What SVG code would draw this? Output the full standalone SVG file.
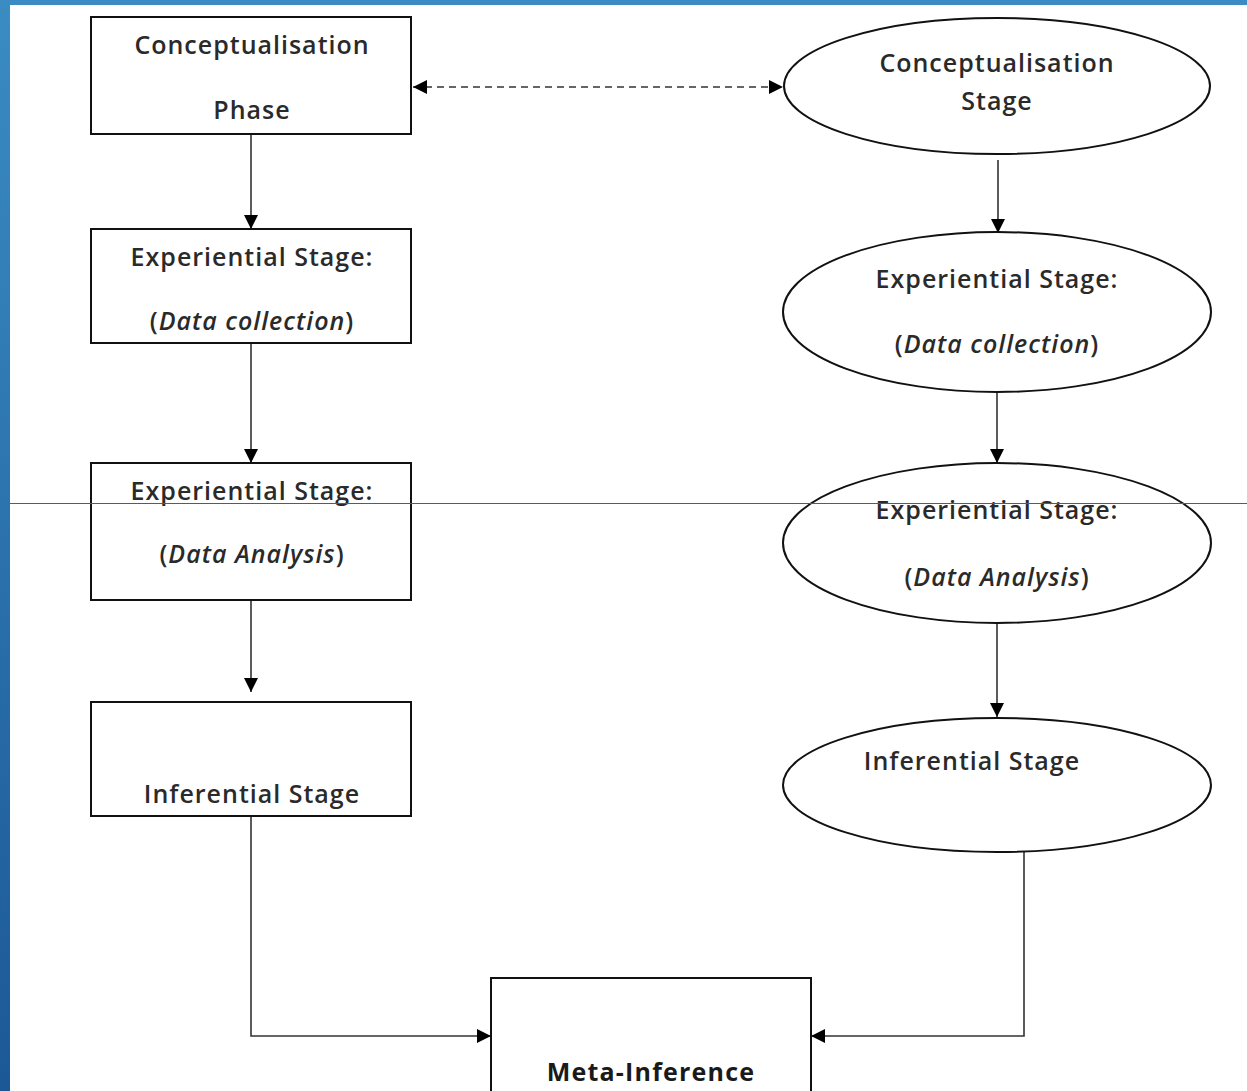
<svg xmlns="http://www.w3.org/2000/svg" width="1247" height="1091" viewBox="0 0 1247 1091">
<defs>
<linearGradient id="bg" x1="0" y1="0" x2="0" y2="1">
<stop offset="0" stop-color="#3a8cc2"/>
<stop offset="1" stop-color="#1c5896"/>
</linearGradient>
<marker id="ah" viewBox="0 0 10 10" refX="10" refY="5" markerWidth="14" markerHeight="14" markerUnits="userSpaceOnUse" orient="auto-start-reverse">
<path d="M0,0 L10,5 L0,10 z" fill="#000"/>
</marker>
</defs>
<style>
.n{fill:#fff;stroke:#111;stroke-width:2}
.t{font-family:"Open Sans","DejaVu Sans",sans-serif;font-size:25px;font-weight:600;letter-spacing:1px;fill:#2a2a2a;text-anchor:middle}
.i{font-style:italic}
.b{font-weight:bold;letter-spacing:1.2px;fill:#1a1a1a}
.c{fill:none;stroke:#333;stroke-width:1.6}
</style>
<rect x="0" y="0" width="1247" height="1091" fill="url(#bg)"/>
<rect x="10" y="5" width="1237" height="1086" fill="#fff"/>
<g id="connectors">
<line class="c" x1="413" y1="87" x2="783" y2="87" stroke-dasharray="7,5" stroke="#111" marker-start="url(#ah)" marker-end="url(#ah)"/>
<line class="c" x1="251" y1="134" x2="251" y2="229" marker-end="url(#ah)"/>
<line class="c" x1="251" y1="343" x2="251" y2="463" marker-end="url(#ah)"/>
<line class="c" x1="251" y1="600" x2="251" y2="692" marker-end="url(#ah)"/>
<line class="c" x1="998" y1="160" x2="998" y2="233" marker-end="url(#ah)"/>
<line class="c" x1="997" y1="392" x2="997" y2="463" marker-end="url(#ah)"/>
<line class="c" x1="997" y1="623" x2="997" y2="717" marker-end="url(#ah)"/>
<polyline class="c" points="251,816 251,1036 491,1036" marker-end="url(#ah)"/>
<polyline class="c" points="1024,852 1024,1036 811,1036" marker-end="url(#ah)"/>
</g>
<g id="box-conceptualisation-phase">
<rect class="n" x="91" y="17" width="320" height="117"/>
<text class="t" x="252" y="54">Conceptualisation</text>
<text class="t" x="252" y="119">Phase</text>
</g>
<g id="box-experiential-collection">
<rect class="n" x="91" y="229" width="320" height="114"/>
<text class="t" x="252" y="266">Experiential Stage:</text>
<text class="t" x="252" y="330">(<tspan class="i">Data collection</tspan>)</text>
</g>
<g id="box-experiential-analysis">
<rect class="n" x="91" y="463" width="320" height="137"/>
<text class="t" x="252" y="500">Experiential Stage:</text>
<text class="t" x="252" y="563">(<tspan class="i">Data Analysis</tspan>)</text>
</g>
<g id="box-inferential">
<rect class="n" x="91" y="702" width="320" height="114"/>
<text class="t" x="252" y="803">Inferential Stage</text>
</g>
<g id="ellipse-conceptualisation-stage">
<ellipse class="n" cx="997" cy="86" rx="213" ry="68"/>
<text class="t" x="997" y="72">Conceptualisation</text>
<text class="t" x="997" y="110">Stage</text>
</g>
<g id="ellipse-experiential-collection">
<ellipse class="n" cx="997" cy="312" rx="214" ry="80"/>
<text class="t" x="997" y="288">Experiential Stage:</text>
<text class="t" x="997" y="353">(<tspan class="i">Data collection</tspan>)</text>
</g>
<g id="ellipse-experiential-analysis">
<ellipse class="n" cx="997" cy="543" rx="214" ry="80"/>
<text class="t" x="997" y="519">Experiential Stage:</text>
<text class="t" x="997" y="586">(<tspan class="i">Data Analysis</tspan>)</text>
</g>
<g id="ellipse-inferential">
<ellipse class="n" cx="997" cy="785" rx="214" ry="67"/>
<text class="t" x="972" y="770">Inferential Stage</text>
</g>
<g id="box-meta-inference">
<rect class="n" x="491" y="978" width="320" height="120"/>
<text class="t b" x="651" y="1081">Meta-Inference</text>
</g>
<line x1="10" y1="503.5" x2="1247" y2="503.5" stroke="#2f6699" stroke-width="1"/>
</svg>
